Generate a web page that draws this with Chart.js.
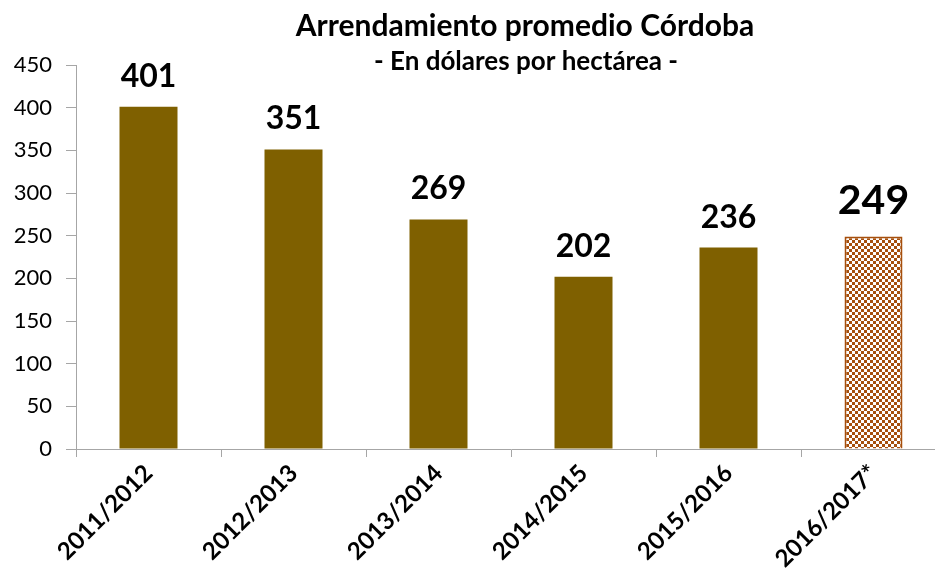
<!DOCTYPE html>
<html>
<head>
<meta charset="utf-8">
<script src="https://cdn.jsdelivr.net/npm/chart.js@4.4.1/dist/chart.umd.min.js"></script>
<style>
  html, body { margin: 0; padding: 0; background: #fff; overflow: hidden; }
  #wrap { width: 950px; height: 577px; position: relative; }
</style>
</head>
<body>
<div id="wrap"><canvas id="chart"></canvas></div>
<script>
const categories = ["2011/2012", "2012/2013", "2013/2014", "2014/2015", "2015/2016", "2016/2017*"];
const rentValues = [401, 351, 269, 202, 236, 249];
const yTicks = [0, 50, 100, 150, 200, 250, 300, 350, 400, 450];

const titleText = "Arrendamiento promedio Córdoba";
const subtitleText = "- En dólares por hectárea -";

// checkered fill for the estimated season
function makeChecker() {
    const c = document.createElement("canvas");
    c.width = 6;
    c.height = 6;
    const ctx = c.getContext("2d");
    ctx.fillStyle = "#ffffff";
    ctx.fillRect(0, 0, 6, 6);
    ctx.fillStyle = "#a64f0c";
    ctx.fillRect(0, 0, 3, 3);
    ctx.fillRect(3, 3, 3, 3);
    return ctx.createPattern(c, "repeat");
}

const solid = "#7f6000";
const checker = makeChecker();

const titlesPlugin = {
    id: "titles",
    afterDraw(chart) {
        const ctx = chart.ctx;
        ctx.save();
        ctx.fillStyle = "#000";
        ctx.textAlign = "center";
        ctx.textBaseline = "middle";
        ctx.font = "bold 30px Lato";
        ctx.fillText(titleText, 525, 26);
        ctx.font = "bold 26px Lato";
        ctx.fillText(subtitleText, 526, 62);
        ctx.restore();
    }
};

const valueLabels = {
    id: "valueLabels",
    afterDatasetsDraw(chart) {
        const ctx = chart.ctx;
        const meta = chart.getDatasetMeta(0);
        ctx.save();
        ctx.fillStyle = "#000";
        ctx.textAlign = "center";
        ctx.textBaseline = "alphabetic";
        meta.data.forEach((bar, i) => {
            const last = i === meta.data.length - 1;
            ctx.font = last ? "bold 41px Lato" : "bold 32px Lato";
            ctx.fillText(String(rentValues[i]), bar.x, bar.y - (last ? 23 : 20));
        });
        ctx.restore();
    }
};

new Chart(document.getElementById("chart"), {
    type: "bar",
    data: {
        labels: categories,
        datasets: [{
            data: rentValues,
            backgroundColor: rentValues.map((v, i) => i === rentValues.length - 1 ? checker : solid),
            borderColor: rentValues.map((v, i) => i === rentValues.length - 1 ? "#a64f0c" : solid),
            borderWidth: rentValues.map((v, i) => i === rentValues.length - 1 ? 2 : 0),
            barPercentage: 0.4,
            categoryPercentage: 1
        }]
    },
    options: {
        responsive: true,
        maintainAspectRatio: false,
        animation: false,
        layout: {
            padding: {top: 65, left: 0, right: 4, bottom: 0}
        },
        plugins: {
            legend: {display: false},
            tooltip: {enabled: false}
        },
        scales: {
            x: {
                afterFit(scale) {
                    scale.height = 128;
                },
                grid: {
                    display: true,
                    offset: true,
                    drawOnChartArea: false,
                    tickLength: 8,
                    color: "#a6a6a6"
                },
                border: {color: "#a6a6a6", width: 1},
                ticks: {
                    color: "#000",
                    font: {family: "Lato", size: 24, weight: "bold"},
                    minRotation: 45,
                    maxRotation: 45,
                    padding: 2
                }
            },
            y: {
                min: 0,
                max: 450,
                afterBuildTicks(scale) {
                    scale.ticks = yTicks.map(v => ({value: v}));
                },
                afterFit(scale) {
                    scale.width = 76;
                },
                grid: {
                    display: true,
                    drawOnChartArea: false,
                    tickLength: 10,
                    color: "#a6a6a6"
                },
                border: {color: "#a6a6a6", width: 1},
                ticks: {
                    color: "#000",
                    font: {family: "Lato", size: 22},
                    padding: 14
                }
            }
        }
    },
    plugins: [titlesPlugin, valueLabels]
});
</script>
</body>
</html>
